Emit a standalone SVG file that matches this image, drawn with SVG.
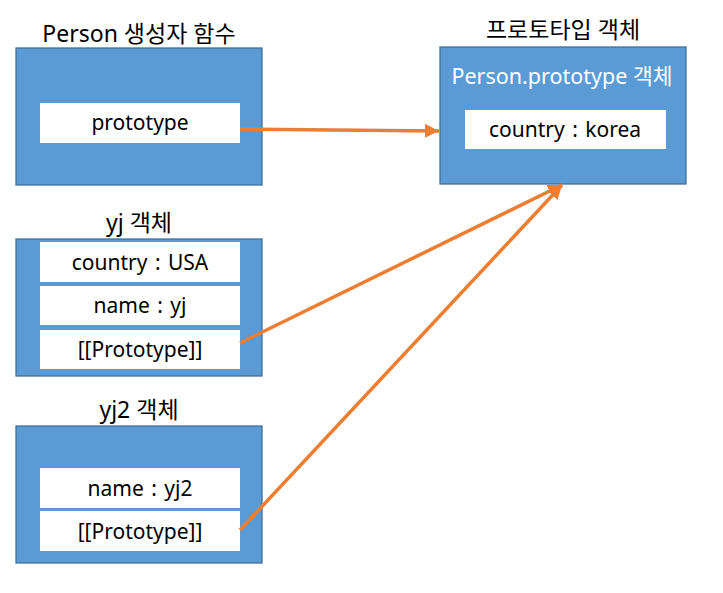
<svg xmlns="http://www.w3.org/2000/svg" width="723" height="593" viewBox="0 0 723 593">
<style>
.box{fill:#5B9BD5;stroke:#41719C;stroke-width:1.3}
.cell{fill:#FFFFFF}
text{font-family:"Noto Sans","Noto Sans CJK KR",sans-serif;font-size:21px;text-anchor:middle;fill:#000}
.ct{word-spacing:2px}
.title{font-size:23px}
.wt{fill:#FFFFFF;font-size:21.5px}
.conn{stroke:#ED7D31;stroke-width:3.5;fill:none}
</style>
<defs>
<marker id="ah" markerWidth="4" markerHeight="4" refX="4" refY="2" orient="auto" markerUnits="strokeWidth">
<path d="M0,0 L4,2 L0,4 Z" fill="#ED7D31"/>
</marker>
</defs>
<rect width="723" height="593" fill="#FFFFFF"/>
<g id="person">
<text class="title" x="139" y="42">Person 생성자 함수</text>
<rect class="box" x="16" y="48" width="246" height="137"/>
<rect class="cell" x="40" y="103" width="200" height="40"/>
<text x="140" y="130">prototype</text>
</g>
<g id="proto">
<text class="title" x="563" y="38">프로토타입 객체</text>
<rect class="box" x="440" y="47" width="246" height="137"/>
<text class="wt" x="562" y="84">Person.prototype 객체</text>
<rect class="cell" x="465" y="110" width="201" height="39"/>
<text class="ct" x="565" y="137">country : korea</text>
</g>
<g id="yj">
<text class="title" x="139" y="231">yj 객체</text>
<rect class="box" x="16" y="239" width="246" height="137"/>
<rect class="cell" x="40" y="242" width="200" height="40"/>
<text class="ct" x="140" y="270">country : USA</text>
<rect class="cell" x="40" y="286" width="200" height="39"/>
<text class="ct" x="140" y="313">name : yj</text>
<rect class="cell" x="40" y="330" width="200" height="39"/>
<text x="140" y="357">[[Prototype]]</text>
</g>
<g id="yj2">
<text class="title" x="139" y="418">yj2 객체</text>
<rect class="box" x="16" y="426" width="246" height="137"/>
<rect class="cell" x="40" y="468" width="200" height="40"/>
<text class="ct" x="140" y="496">name : yj2</text>
<rect class="cell" x="40" y="511" width="200" height="40"/>
<text x="140" y="539">[[Prototype]]</text>
</g>
<g id="connectors">
<line class="conn" x1="240" y1="129" x2="439" y2="131" marker-end="url(#ah)"/>
<line class="conn" x1="240" y1="343" x2="562" y2="185" marker-end="url(#ah)"/>
<line class="conn" x1="240" y1="530" x2="562" y2="185" marker-end="url(#ah)"/>
</g>
</svg>
